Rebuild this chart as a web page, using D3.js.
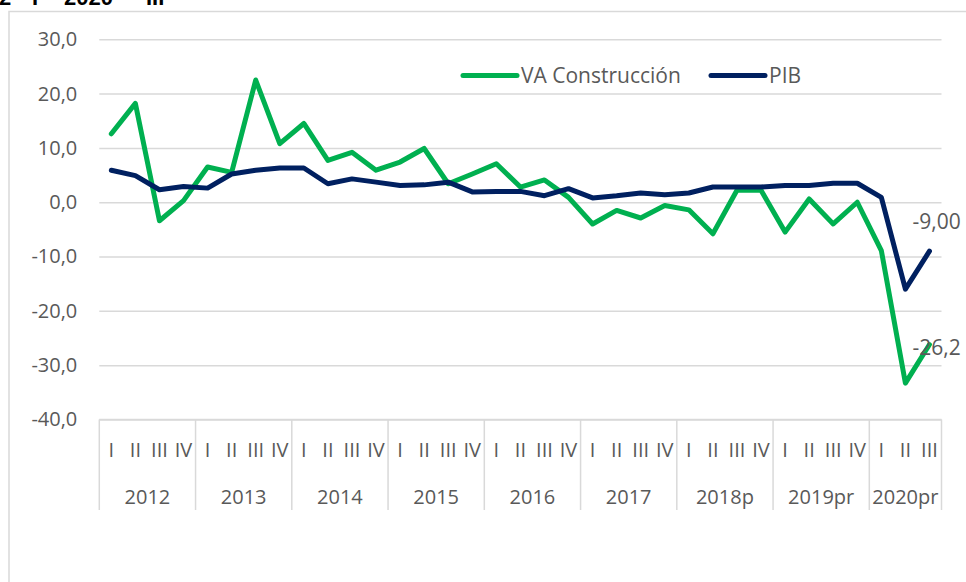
<!DOCTYPE html>
<html>
<head>
<meta charset="utf-8">
<script src="https://cdn.jsdelivr.net/npm/d3@7"></script>
<style>
  html, body { margin: 0; padding: 0; background: #fff; }
  svg { display: block; font-family: "Open Sans", "Noto Sans", sans-serif; }
</style>
</head>
<body>
<svg id="chart" width="966" height="582"></svg>
<script>
// ---------- data ----------
const years = ["2012", "2013", "2014", "2015", "2016", "2017", "2018p", "2019pr", "2020pr"];
const quarterNames = ["I", "II", "III", "IV"];
const quartersPerYear = [4, 4, 4, 4, 4, 4, 4, 4, 3];
const vaConstruccion = [12.6, 18.2, -3.4, 0.3, 6.5, 5.5, 22.5, 10.8, 14.5, 7.7, 9.2, 5.9,
  7.4, 9.9, 3.4, 5.2, 7.1, 2.8, 4.1, 0.9, -4.0, -1.5, -2.9, -0.6,
  -1.4, -5.8, 2.2, 2.2, -5.5, 0.6, -4.0, 0.0, -8.9, -33.3, -26.2];
const pib = [5.9, 4.9, 2.3, 2.9, 2.6, 5.2, 5.9, 6.3, 6.3, 3.4, 4.3, 3.7,
  3.1, 3.2, 3.7, 1.9, 2.0, 2.0, 1.2, 2.5, 0.8, 1.2, 1.7, 1.4,
  1.7, 2.8, 2.8, 2.8, 3.1, 3.1, 3.5, 3.5, 0.9, -16.0, -9.0];
const yTicks = [-40, -30, -20, -10, 0, 10, 20, 30];
const seriesNames = ["VA Construcción", "PIB"];
const lastLabels = ["-26,2", "-9,00"];

// ---------- build categories ----------
const categories = [];
years.forEach((y, yi) => {
  for (let q = 0; q < quartersPerYear[yi]; q++) categories.push({ id: y + "-" + q, year: y, q: quarterNames[q], yi });
});

const svg = d3.select("#chart");
const textColor = "#595959";
const gridColor = "#d9d9d9";
const green = "#00b050";
const navy = "#002060";

const x = d3.scaleBand().domain(categories.map(d => d.id)).range([99.3, 941.5]).padding(0);
const y = d3.scaleLinear().domain([-40, 30]).range([419.5, 39.3]);

const loc = d3.formatLocale({ decimal: ",", thousands: ".", grouping: [3], currency: ["", ""], minus: "-" });
const fmt = loc.format(".1f");

// outer chart border (partial, as in screenshot)
svg.append("path").attr("d", "M9,582 V11.5 H966").attr("fill", "none").attr("stroke", gridColor).attr("stroke-width", 1.5);

// title (cropped at top, as in the reference)
const title = svg.append("text").attr("y", 5).attr("font-weight", "bold").attr("font-size", 22).attr("fill", "#000")
  .attr("font-family", "Liberation Sans, Arial, sans-serif");
title.append("tspan").attr("x", -1).text("2");
title.append("tspan").attr("x", 32).text("I");
title.append("tspan").attr("x", 44).text("–");
title.append("tspan").attr("x", 64).text("2020");
title.append("tspan").attr("x", 117).attr("font-size", 12).attr("dy", -8).text("pr");
title.append("tspan").attr("x", 146).attr("dy", 8).text("III");

// y axis gridlines + labels
const yAxis = d3.axisLeft(y).tickValues(yTicks).tickSize(-(941.5 - 99.3)).tickFormat(fmt).tickPadding(22);
const gy = svg.append("g").attr("transform", "translate(99.3,0)").call(yAxis);
gy.select(".domain").remove();
gy.selectAll(".tick line").attr("stroke", gridColor).attr("stroke-width", 1.5);
gy.selectAll(".tick text").attr("fill", textColor).attr("font-size", 20).attr("font-family", "Open Sans, sans-serif");

// category axis: quarter ticks and year groups
const axisY = y(-40);
const gx = svg.append("g");
gx.append("line").attr("x1", 99.3).attr("x2", 941.5).attr("y1", axisY).attr("y2", axisY).attr("stroke", gridColor).attr("stroke-width", 1.5);
gx.selectAll("text.q").data(categories).join("text").attr("class", "q")
  .attr("x", d => x(d.id) + x.bandwidth() / 2).attr("y", 450).attr("dy", "0.36em")
  .attr("text-anchor", "middle").attr("fill", textColor).attr("font-size", 20).text(d => d.q);
// year boundaries
const yearGroups = years.map((yv, yi) => {
  const cats = categories.filter(c => c.yi === yi);
  return { year: yv, x0: x(cats[0].id), x1: x(cats[cats.length - 1].id) + x.bandwidth() };
});
const bounds = [yearGroups[0].x0].concat(yearGroups.map(g => g.x1));
gx.selectAll("line.sep").data(bounds).join("line").attr("class", "sep")
  .attr("x1", d => d).attr("x2", d => d).attr("y1", axisY).attr("y2", 510)
  .attr("stroke", gridColor).attr("stroke-width", 1.5);
gx.selectAll("text.yr").data(yearGroups).join("text").attr("class", "yr")
  .attr("x", d => (d.x0 + d.x1) / 2).attr("y", 497).attr("dy", "0.36em")
  .attr("text-anchor", "middle").attr("fill", textColor).attr("font-size", 20).text(d => d.year);

// lines
const line = d3.line().x((d, i) => x(categories[i].id) + x.bandwidth() / 2).y(d => y(d));
const series = [{ name: seriesNames[0], values: vaConstruccion, color: green }, { name: seriesNames[1], values: pib, color: navy }];
svg.append("g").selectAll("path").data(series).join("path")
  .attr("d", d => line(d.values)).attr("fill", "none").attr("stroke", d => d.color)
  .attr("stroke-width", 5).attr("stroke-linejoin", "round").attr("stroke-linecap", "round");

// last-point data labels
const lastIdx = categories.length - 1;
const lx = x(categories[lastIdx].id) + x.bandwidth() / 2;
svg.append("text").attr("x", lx - 17).attr("y", y(vaConstruccion[lastIdx]) + 3).attr("dy", "0.36em")
  .attr("fill", textColor).attr("font-size", 21).text(lastLabels[0]);
svg.append("text").attr("x", lx - 17).attr("y", y(pib[lastIdx]) - 30).attr("dy", "0.36em")
  .attr("fill", textColor).attr("font-size", 21).text(lastLabels[1]);

// legend
const legend = svg.append("g");
const legendItems = [{ name: seriesNames[0], color: green, x0: 463, x1: 517 }, { name: seriesNames[1], color: navy, x0: 711, x1: 765 }];
legendItems.forEach(it => {
  legend.append("line").attr("x1", it.x0).attr("x2", it.x1).attr("y1", 75.5).attr("y2", 75.5)
    .attr("stroke", it.color).attr("stroke-width", 5).attr("stroke-linecap", "round");
  legend.append("text").attr("x", it.x1 + 4).attr("y", 75.5).attr("dy", "0.36em")
    .attr("fill", textColor).attr("font-size", 21).text(it.name);
});
</script>
</body>
</html>
